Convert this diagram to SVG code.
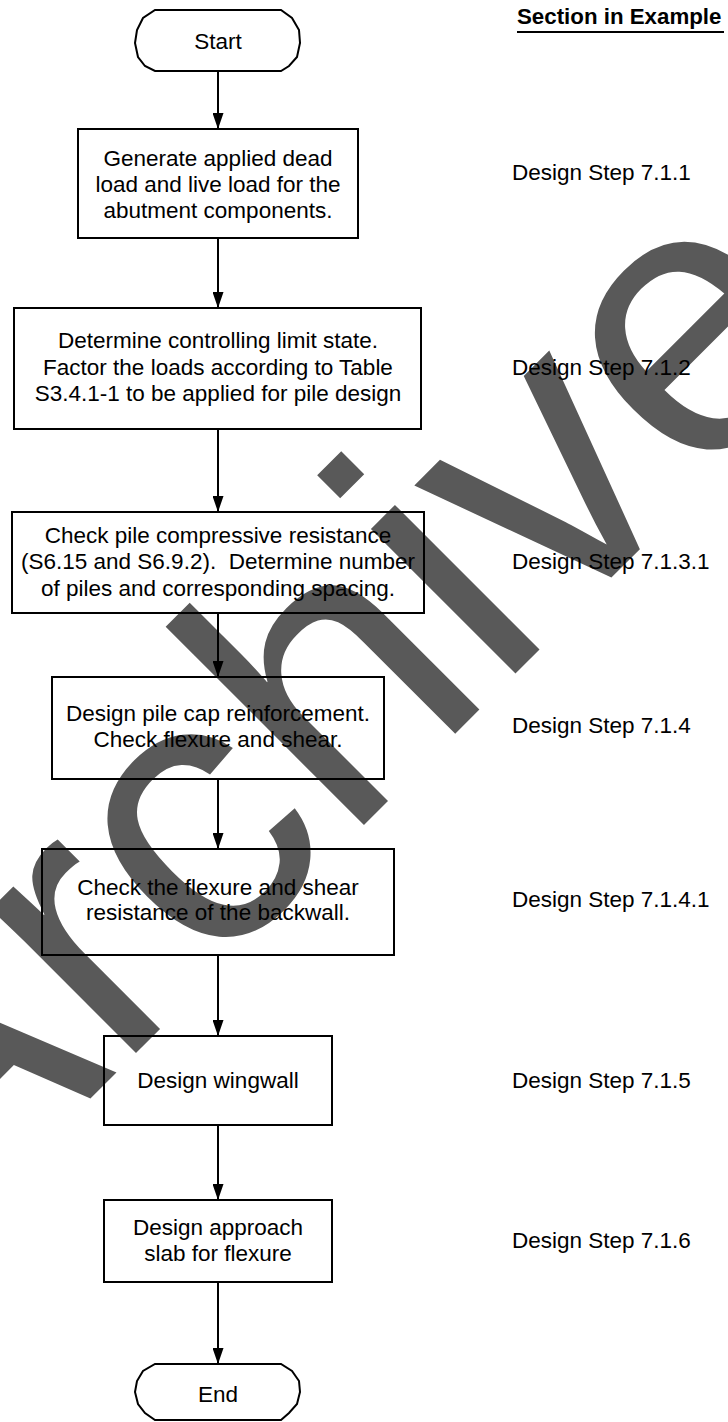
<svg xmlns="http://www.w3.org/2000/svg" width="728" height="1422" viewBox="0 0 728 1422">
<defs>
<marker id="arr" markerWidth="16" markerHeight="11" refX="16" refY="5.5" orient="auto" markerUnits="userSpaceOnUse">
<path d="M0,0 L16,5.5 L0,11 Z" fill="#000"/>
</marker>
<style>
.box{fill:none;stroke:#000;stroke-width:2}
.t{font-family:"Liberation Sans",Arial,sans-serif;font-size:22.5px;fill:#000;text-anchor:middle;white-space:pre}
.lbl{font-family:"Liberation Sans",Arial,sans-serif;font-size:22.5px;fill:#000}
.hdr{font-family:"Liberation Sans",Arial,sans-serif;font-size:22.3px;font-weight:bold;fill:#000}
.edge{stroke:#000;stroke-width:2;fill:none;marker-end:url(#arr)}
.wm{font-family:"Liberation Sans",Arial,sans-serif;font-size:387px;fill:#595959}
</style>
</defs>
<rect width="728" height="1422" fill="#fff"/>
<g id="watermark">
<text class="wm" transform="translate(-65.5,1254.5) rotate(-45)">Archive</text>
</g>
<g id="header">
<text class="hdr" x="517" y="24">Section in Example</text>
<line x1="517" y1="32" x2="724" y2="32" stroke="#000" stroke-width="2"/>
</g>
<g id="connectors">
<line class="edge" x1="218" y1="71" x2="218" y2="129"/>
<line class="edge" x1="218" y1="238" x2="218" y2="308"/>
<line class="edge" x1="218" y1="429" x2="218" y2="512"/>
<line class="edge" x1="218" y1="613" x2="218" y2="677"/>
<line class="edge" x1="218" y1="779" x2="218" y2="849"/>
<line class="edge" x1="218" y1="955" x2="218" y2="1036"/>
<line class="edge" x1="218" y1="1125" x2="218" y2="1200"/>
<line class="edge" x1="218" y1="1282" x2="218" y2="1364"/>
</g>
<g id="start">
<path class="box" d="M155,10 H281 L292,18 L299,30 L300,43 L297,57 L289,66 L281,71 H155 L145,66 L138,57 L135,43 L137,30 L143,18 Z"/>
<text class="t" x="218" y="49">Start</text>
</g>
<g id="generate">
<rect class="box" x="78" y="129" width="280" height="109"/>
<text class="t" x="218" y="166">Generate applied dead</text>
<text class="t" x="218" y="192">load and live load for the</text>
<text class="t" x="218" y="218">abutment components.</text>
</g>
<g id="determine">
<rect class="box" x="14" y="308" width="407" height="121"/>
<text class="t" x="218" y="348">Determine controlling limit state.</text>
<text class="t" x="218" y="375">Factor the loads according to Table</text>
<text class="t" x="218" y="401">S3.4.1-1 to be applied for pile design</text>
</g>
<g id="checkpile">
<rect class="box" x="12" y="512" width="412" height="101"/>
<text class="t" x="218" y="543">Check pile compressive resistance</text>
<text class="t" x="218" y="569">(S6.15 and S6.9.2).  Determine number</text>
<text class="t" x="218" y="596">of piles and corresponding spacing.</text>
</g>
<g id="pilecap">
<rect class="box" x="52" y="677" width="332" height="102"/>
<text class="t" x="218" y="721">Design pile cap reinforcement.</text>
<text class="t" x="218" y="747">Check flexure and shear.</text>
</g>
<g id="backwall">
<rect class="box" x="42" y="849" width="352" height="106"/>
<text class="t" x="218" y="895">Check the flexure and shear</text>
<text class="t" x="218" y="920">resistance of the backwall.</text>
</g>
<g id="wingwall">
<rect class="box" x="104" y="1036" width="228" height="89"/>
<text class="t" x="218" y="1088">Design wingwall</text>
</g>
<g id="approach">
<rect class="box" x="104" y="1200" width="228" height="82"/>
<text class="t" x="218" y="1235">Design approach</text>
<text class="t" x="218" y="1261">slab for flexure</text>
</g>
<g id="end">
<path class="box" d="M155,1364 H281 L292,1371 L299,1381 L300,1392 L297,1404 L289,1413 L281,1420 H155 L145,1413 L138,1404 L135,1392 L137,1381 L143,1371 Z"/>
<text class="t" x="218" y="1402">End</text>
</g>
<g id="labels">
<text class="lbl" x="512" y="180">Design Step 7.1.1</text>
<text class="lbl" x="512" y="375">Design Step 7.1.2</text>
<text class="lbl" x="512" y="569">Design Step 7.1.3.1</text>
<text class="lbl" x="512" y="733">Design Step 7.1.4</text>
<text class="lbl" x="512" y="907">Design Step 7.1.4.1</text>
<text class="lbl" x="512" y="1088">Design Step 7.1.5</text>
<text class="lbl" x="512" y="1248">Design Step 7.1.6</text>
</g>
</svg>
